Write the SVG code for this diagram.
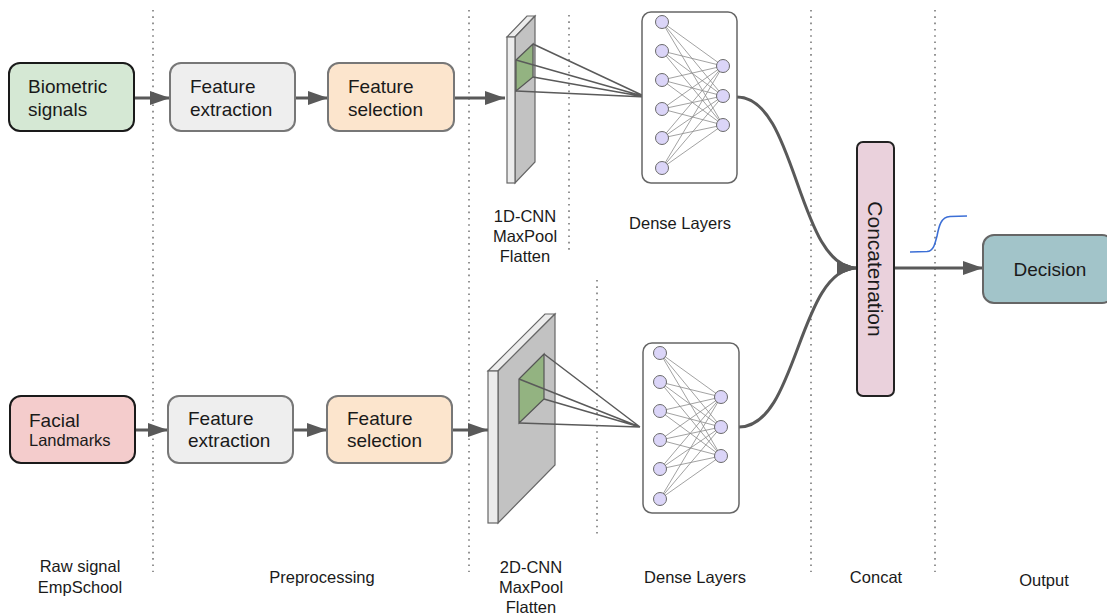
<svg xmlns="http://www.w3.org/2000/svg" xmlns:xlink="http://www.w3.org/1999/xlink" width="1107" height="615" viewBox="0 0 1107 615">
  <style>
    text { font-family: "Liberation Sans", Arial, sans-serif; fill: #1a1a1a; }
    .lbl { font-size: 19px; }
    .small { font-size: 16.5px; }
    .cap { font-size: 16.5px; text-anchor: middle; }
    .sep { stroke: #7a7a7a; stroke-width: 1.6; stroke-dasharray: 1.6 4.7; fill: none; }
    .box { stroke-width: 2; }
    .edge { stroke: #595959; stroke-width: 3; fill: none; }
    .ray { stroke: #5a5a5a; stroke-width: 1.5; fill: none; }
    .slabFront { fill: #ececec; stroke: #666; stroke-width: 1.2; }
    .slabSide { fill: #c2c2c2; stroke: #666; stroke-width: 1.2; }
    .patch { fill: #93b381; stroke: #555; stroke-width: 1.2; }
    .neuron { fill: #dbd5f8; stroke: #6a6a6a; stroke-width: 1; }
    .syn { stroke: #8a8a8a; stroke-width: 0.8; fill: none; }
  </style>
  <defs>
    <marker id="head" viewBox="0 0 20 14" refX="20" refY="7" markerWidth="20" markerHeight="14" markerUnits="userSpaceOnUse" orient="auto">
      <path d="M0,0 L20,7 L0,14 Z" fill="#595959"/>
    </marker>
    <!-- fully connected 6 -> 3 layer, left column at x=0 -->
    <g id="net">
      <path class="syn" d="M0,0L61,44M0,0L61,74M0,0L61,103M0,29L61,44M0,29L61,74M0,29L61,103M0,58L61,44M0,58L61,74M0,58L61,103M0,87L61,44M0,87L61,74M0,87L61,103M0,116L61,44M0,116L61,74M0,116L61,103M0,146L61,44M0,146L61,74M0,146L61,103"/>
      <circle class="neuron" cx="0" cy="0" r="6.5"/>
      <circle class="neuron" cx="0" cy="29" r="6.5"/>
      <circle class="neuron" cx="0" cy="58" r="6.5"/>
      <circle class="neuron" cx="0" cy="87" r="6.5"/>
      <circle class="neuron" cx="0" cy="116" r="6.5"/>
      <circle class="neuron" cx="0" cy="146" r="6.5"/>
      <circle class="neuron" cx="61" cy="44" r="6.5"/>
      <circle class="neuron" cx="61" cy="74" r="6.5"/>
      <circle class="neuron" cx="61" cy="103" r="6.5"/>
    </g>
  </defs>

  <rect width="1107" height="615" fill="#ffffff"/>

  <!-- stage separators -->
  <g id="separators">
    <line class="sep" x1="153" y1="10" x2="153" y2="572"/>
    <line class="sep" x1="469" y1="10" x2="469" y2="572"/>
    <line class="sep" x1="569" y1="15" x2="569" y2="253"/>
    <line class="sep" x1="597" y1="280" x2="597" y2="537"/>
    <line class="sep" x1="811" y1="10" x2="811" y2="572"/>
    <line class="sep" x1="935" y1="10" x2="935" y2="572"/>
  </g>

  <!-- connectors -->
  <g id="connectors">
    <line class="edge" x1="134" y1="98" x2="170" y2="98" marker-end="url(#head)"/>
    <line class="edge" x1="295" y1="98" x2="328" y2="98" marker-end="url(#head)"/>
    <line class="edge" x1="454" y1="98" x2="505" y2="98" marker-end="url(#head)"/>
    <line class="edge" x1="135" y1="430" x2="168" y2="430" marker-end="url(#head)"/>
    <line class="edge" x1="293" y1="430" x2="327" y2="430" marker-end="url(#head)"/>
    <line class="edge" x1="452" y1="430" x2="488" y2="430" marker-end="url(#head)"/>
    <path class="edge" d="M737,97 C797,97 797,268 857,268" marker-end="url(#head)"/>
    <path class="edge" d="M739,427 C798,427 798,268 857,268" marker-end="url(#head)"/>
    <line class="edge" x1="894" y1="268" x2="983" y2="268" marker-end="url(#head)"/>
  </g>

  <!-- input: biometric signals -->
  <g id="biometric">
    <rect class="box" x="9" y="63" width="125" height="68" rx="11" fill="#d5e8d4" stroke="#1a1a1a"/>
    <text class="lbl" x="28" y="93">Biometric</text>
    <text class="lbl" x="28" y="116">signals</text>
  </g>
  <g id="extract-top">
    <rect class="box" x="170" y="63" width="125" height="68" rx="11" fill="#eeeeee" stroke="#777"/>
    <text class="lbl" x="190" y="93">Feature</text>
    <text class="lbl" x="190" y="116">extraction</text>
  </g>
  <g id="select-top">
    <rect class="box" x="328" y="63" width="126" height="68" rx="11" fill="#fce5cd" stroke="#777"/>
    <text class="lbl" x="348" y="93">Feature</text>
    <text class="lbl" x="348" y="116">selection</text>
  </g>

  <!-- input: facial landmarks -->
  <g id="facial">
    <rect class="box" x="10" y="396" width="125" height="67" rx="11" fill="#f4cccc" stroke="#1a1a1a"/>
    <text class="lbl" x="29" y="427">Facial</text>
    <text class="small" x="29" y="446">Landmarks</text>
  </g>
  <g id="extract-bottom">
    <rect class="box" x="168" y="396" width="125" height="67" rx="11" fill="#eeeeee" stroke="#777"/>
    <text class="lbl" x="188" y="425">Feature</text>
    <text class="lbl" x="188" y="447">extraction</text>
  </g>
  <g id="select-bottom">
    <rect class="box" x="327" y="396" width="125" height="67" rx="11" fill="#fce5cd" stroke="#777"/>
    <text class="lbl" x="347" y="425">Feature</text>
    <text class="lbl" x="347" y="447">selection</text>
  </g>

  <!-- 1D convolution slab -->
  <g id="cnn1d">
    <polygon class="slabFront" points="507,37 527,16 535,16 515,37"/>
    <polygon class="slabSide" points="515,37 535,16 535,162 515,183"/>
    <rect class="slabFront" x="507" y="37" width="8" height="146"/>
    <polygon class="patch" points="516,60 533,44 533,77 516,91"/>
    <path class="ray" d="M533,44 L646,97 M516,60 L646,97 M533,77 L646,97 M516,91 L646,97"/>
    <text class="cap" x="525" y="222">1D-CNN</text>
    <text class="cap" x="525" y="242">MaxPool</text>
    <text class="cap" x="525" y="262">Flatten</text>
  </g>

  <!-- 2D convolution slab -->
  <g id="cnn2d">
    <polygon class="slabFront" points="488,371 545,314 555,314 498,371"/>
    <polygon class="slabSide" points="498,371 555,314 555,465 498,523"/>
    <rect class="slabFront" x="488" y="371" width="10" height="152"/>
    <polygon class="patch" points="519,379 544,354 544,399 519,423"/>
    <path class="ray" d="M544,354 L640,427 M519,379 L640,427 M544,399 L640,427 M519,423 L640,427"/>
    <text class="cap" x="531" y="573">2D-CNN</text>
    <text class="cap" x="531" y="593">MaxPool</text>
    <text class="cap" x="531" y="613">Flatten</text>
  </g>

  <!-- dense layers -->
  <g id="dense-top">
    <rect x="642" y="12" width="95" height="171" rx="9" fill="#ffffff" stroke="#666" stroke-width="1.5"/>
    <use xlink:href="#net" transform="translate(662,22)"/>
    <text class="cap" x="680" y="229">Dense Layers</text>
  </g>
  <g id="dense-bottom">
    <rect x="643" y="343" width="96" height="170" rx="9" fill="#ffffff" stroke="#666" stroke-width="1.5"/>
    <use xlink:href="#net" transform="translate(660,353)"/>
  </g>

  <!-- fusion -->
  <g id="concat">
    <rect x="857" y="142" width="37" height="254" rx="6" fill="#ead1dc" stroke="#222" stroke-width="2"/>
    <text transform="translate(875.5,269) rotate(90)" text-anchor="middle" dominant-baseline="central" font-size="21">Concatenation</text>
  </g>

  <!-- sigmoid activation sketch -->
  <path id="sigmoid" d="M910,252 L927,251.5 C934,251 935,243 937,236 C939,226 941,217 950,216.5 L967,216" fill="none" stroke="#3c6fd6" stroke-width="1.6"/>

  <g id="decision">
    <rect x="983" y="235" width="130" height="68" rx="11" fill="#a2c4c9" stroke="#666" stroke-width="2"/>
    <text class="lbl" x="1050" y="276" text-anchor="middle">Decision</text>
  </g>

  <!-- stage captions -->
  <g id="captions">
    <text class="cap" x="80" y="572">Raw signal</text>
    <text class="cap" x="80" y="593">EmpSchool</text>
    <text class="cap" x="322" y="583">Preprocessing</text>
    <text class="cap" x="695" y="583">Dense Layers</text>
    <text class="cap" x="876" y="583">Concat</text>
    <text class="cap" x="1044" y="586">Output</text>
  </g>
</svg>
